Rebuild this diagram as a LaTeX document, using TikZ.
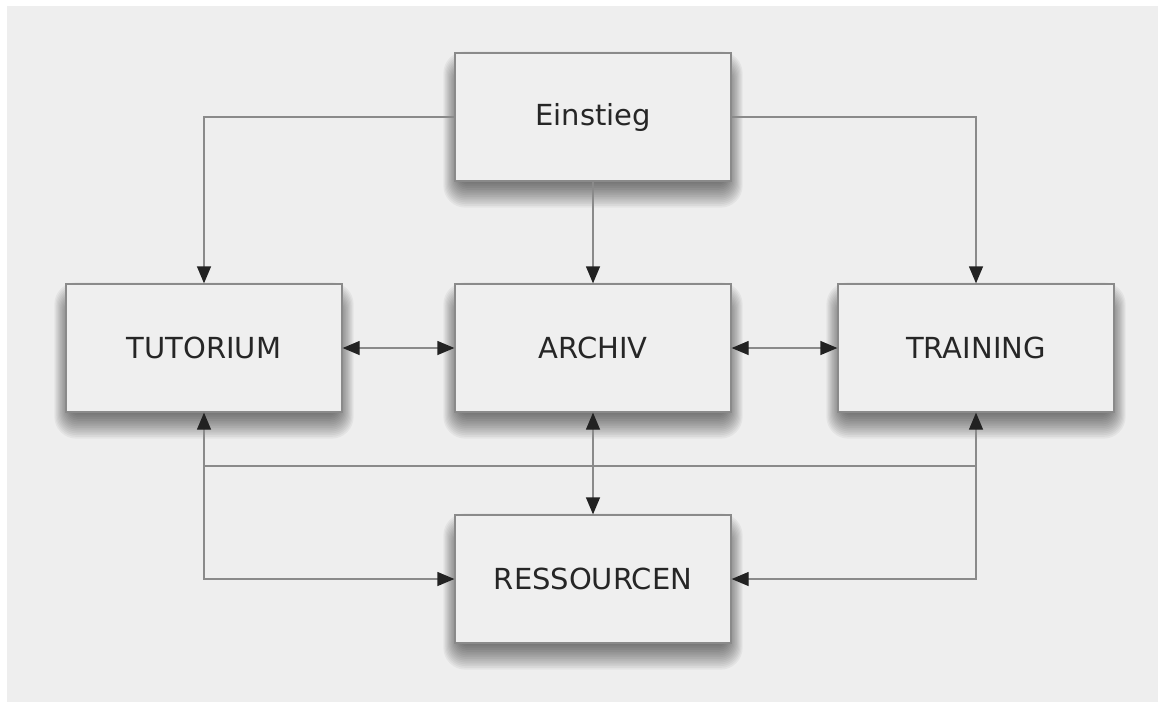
\documentclass[tikz,border=0pt]{standalone}
\usepackage{fontspec}
\setmainfont{DejaVu Sans}
\usetikzlibrary{arrows.meta,calc}
\pgfdeclarelayer{bg}
\pgfdeclarelayer{shade}
\pgfsetlayers{bg,shade,main}
\definecolor{bgc}{HTML}{EEEEEE}
\definecolor{boxc}{HTML}{EFEFEF}
\definecolor{linec}{HTML}{8A8A8A}
\definecolor{tipc}{HTML}{222222}
\definecolor{txtc}{HTML}{262626}
\tikzset{
  box/.style={draw=linec, line width=1.3pt, fill=boxc, minimum width=276pt, minimum height=128pt,
    inner sep=0pt, text=txtc, font=\fontsize{29}{34}\selectfont},
  conn/.style={draw=linec, line width=1.3pt},
  tip/.tip={Triangle[length=17pt,width=14pt,color=tipc]},
  ar/.style={conn, -tip},
  br/.style={conn, tip-tip},
  shadelayer/.style={fill=black, opacity=0.045}
}
\begin{document}
\begin{tikzpicture}[x=1pt,y=-1pt]
\useasboundingbox (0,0) rectangle (1158,702);
\begin{pgfonlayer}{bg}
\fill[white] (0,0) rectangle (1158,702);
\fill[bgc] (7,6) rectangle (1158,702);
\end{pgfonlayer}
\node[box] (ein) at (593,117) {Einstieg};
\node[box] (tut) at (204,348) {TUTORIUM};
\node[box] (arc) at (593,348) {ARCHIV};
\node[box] (tra) at (976,348) {TRAINING};
\node[box] (res) at (593,579) {RESSOURCEN};
\begin{pgfonlayer}{shade}
\foreach \n in {ein,tut,arc,tra,res}{
  \foreach \i in {0,...,19}{
    \pgfmathsetmacro\e{-17+34*\i/19}
    \pgfmathsetmacro\h{-11+22*\i/19}
    \pgfmathsetmacro\rc{3+1.0*\i}
    \fill[shadelayer, rounded corners=\rc pt] ($(\n.south west)+({0-\h},{9+\e})$) rectangle ($(\n.north east)+({\h},{16-\e})$);
  }
}
\end{pgfonlayer}
\coordinate (jl) at (204,466);
\coordinate (jr) at (976,466);
\draw[ar] (ein.west) -| (tut.north);
\draw[ar] (ein.east) -| (tra.north);
\draw[ar] (ein.south) -- (arc.north);
\draw[br] (tut.east) -- (arc.west);
\draw[br] (arc.east) -- (tra.west);
\draw[br] (arc.south) -- (res.north);
\draw[conn] (jl) -- (jr);
\draw[ar] (jl) |- (res.west);
\draw[ar] (jr) |- (res.east);
\draw[ar] (jl) -- (tut.south);
\draw[ar] (jr) -- (tra.south);
\end{tikzpicture}
\end{document}
